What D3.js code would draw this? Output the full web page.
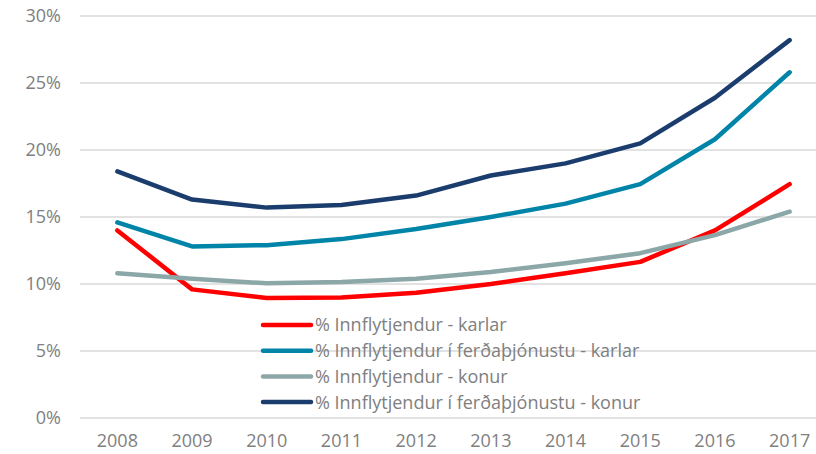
<!DOCTYPE html>
<html>
<head>
<meta charset="utf-8">
<script src="https://cdn.jsdelivr.net/npm/d3@7"></script>
<style>
  body { margin: 0; background: #fff; }
  svg { display: block; font-family: "Open Sans", "Liberation Sans", sans-serif; }
</style>
</head>
<body>
<svg id="chart" width="816" height="454"></svg>
<script>
var years = [2008, 2009, 2010, 2011, 2012, 2013, 2014, 2015, 2016, 2017];
var yTicks = [0, 5, 10, 15, 20, 25, 30];

var karlar      = [14.0, 9.6, 8.95, 9.0, 9.35, 10.0, 10.8, 11.65, 14.0, 17.45];
var ferdKarlar  = [14.6, 12.8, 12.9, 13.35, 14.1, 15.0, 16.0, 17.45, 20.8, 25.8];
var konur       = [10.8, 10.4, 10.05, 10.15, 10.4, 10.9, 11.55, 12.3, 13.65, 15.4];
var ferdKonur   = [18.4, 16.3, 15.7, 15.9, 16.6, 18.1, 19.0, 20.5, 23.9, 28.2];

var seriesNames = [
  "% Innflytjendur - karlar",
  "% Innflytjendur í ferðaþjónustu - karlar",
  "% Innflytjendur - konur",
  "% Innflytjendur í ferðaþjónustu - konur"
];
var seriesColors = ["#ff0000", "#0084a8", "#8ca7a8", "#1b3d6e"];
var seriesValues = [karlar, ferdKarlar, konur, ferdKonur];

var svg = d3.select("#chart");
// plot area edges (avoid "top", it is window.top)
var plotL = 80, plotR = 827, plotT = 16, plotB = 418;

var x = d3.scalePoint().domain(years).range([plotL, plotR]).padding(0.5);
var y = d3.scaleLinear().domain([0, 30]).range([plotB, plotT]);

// gridlines
svg.append("g").selectAll("line").data(yTicks).join("line")
  .attr("x1", plotL).attr("x2", plotR)
  .attr("y1", d => y(d)).attr("y2", d => y(d))
  .attr("stroke", "#d9d9d9").attr("stroke-width", 1.3);

// y labels
svg.append("g").selectAll("text").data(yTicks).join("text")
  .attr("x", 61).attr("y", d => y(d))
  .attr("dy", "0.36em")
  .attr("text-anchor", "end")
  .attr("font-size", 18)
  .attr("fill", "#808080")
  .text(d => d + "%");

// x labels
svg.append("g").selectAll("text").data(years).join("text")
  .attr("x", d => x(d)).attr("y", 441)
  .attr("dy", "0.36em")
  .attr("text-anchor", "middle")
  .attr("font-size", 18)
  .attr("fill", "#808080")
  .text(d => d);

var line = d3.line()
  .x((d, i) => x(years[i]))
  .y(d => y(d));

svg.append("g").selectAll("path").data(seriesValues).join("path")
  .attr("d", d => line(d))
  .attr("fill", "none")
  .attr("stroke", (d, i) => seriesColors[i])
  .attr("stroke-width", 4.5)
  .attr("stroke-linejoin", "round")
  .attr("stroke-linecap", "round");

// legend
var lg = svg.append("g").selectAll("g").data(seriesNames).join("g")
  .attr("transform", (d, i) => "translate(263," + (325 + i * 25.7) + ")");
lg.append("line")
  .attr("x1", 0).attr("x2", 48)
  .attr("stroke", (d, i) => seriesColors[i])
  .attr("stroke-width", 4.5)
  .attr("stroke-linecap", "round");
lg.append("text")
  .attr("x", 52).attr("dy", "0.36em")
  .attr("font-size", 18)
  .attr("fill", "#808080")
  .text(d => d);
</script>
</body>
</html>
